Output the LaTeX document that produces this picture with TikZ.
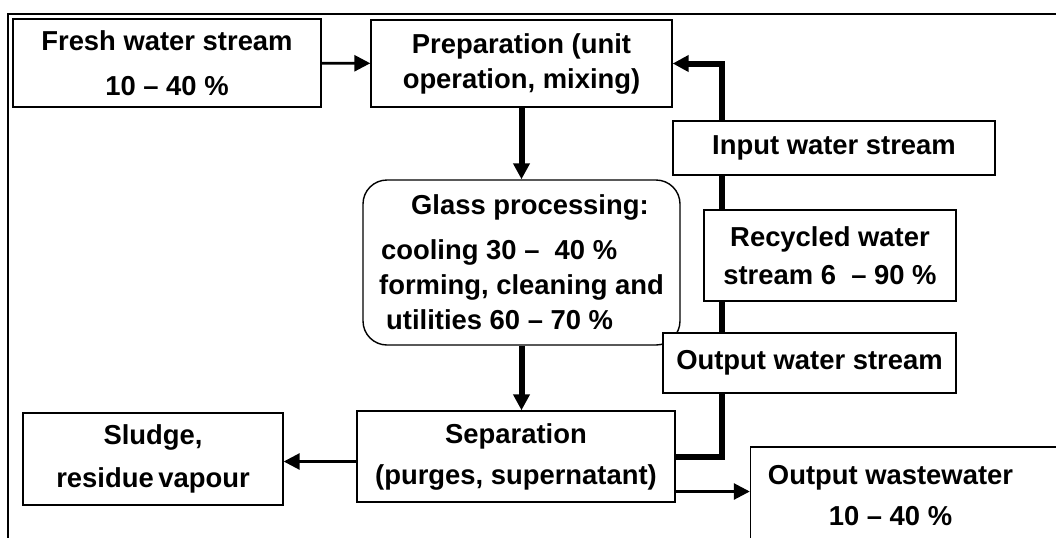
\documentclass[tikz,border=0pt]{standalone}
\usepackage{fontspec}
\setmainfont{Liberation Sans}
\usetikzlibrary{positioning,arrows.meta,backgrounds}
\tikzstyle{arrow} = [line width=1.4pt,-{Triangle[length=8pt,width=8pt]}]
\tikzset{
 bx/.style
  = {rectangle, draw, fill=white, line width=0.7pt, align=center, inner sep=0pt,
     font=\bfseries\fontsize{13.7}{17}\selectfont},
 rb/.style
  = {bx, rounded corners=12pt},
 ta/.style
  = {arrow, line width=3pt},
 ll/.style
  = {line width=3pt, -{Triangle[length=8pt,width=8pt]}},
}

\begin{document}
\begin{tikzpicture}[x=0.5pt,y=-0.5pt]
    \useasboundingbox (0,0) rectangle (1056,537);
    \clip (0,0) rectangle (1056,537);
    \draw[line width=1pt] (8,545) -- (8,14) -- (1060,14);

    \node [bx, minimum width=154pt, minimum height=44pt] (fresh) at (167,63)
      {Fresh water stream\\[5.5pt]10 – 40 \%};
    \node [bx, minimum width=150.5pt, minimum height=43.5pt] (prep) at (521.5,63.5)
      {Preparation (unit\\[0.5pt]operation, mixing)};
    \node [bx, minimum width=161pt, minimum height=27pt] (input) at (834,148)
      {Input water stream};
    \node [bx, minimum width=126pt, minimum height=45.5pt] (recyc) at (830,255.5)
      {Recycled water\\[2pt]stream 6 \ – 90 \%};
    \node [rb, align=left, minimum width=158.5pt, minimum height=82.5pt] (glass) at (521.5,262.5)
      {\hspace*{16pt}Glass processing:\\[5.5pt]\hspace*{1pt}cooling 30 – \ 40 \%\\[0.5pt]forming, cleaning and\\[0.5pt]\hspace*{3.5pt}utilities 60 – 70 \%};
    \node [bx, minimum width=146.5pt, minimum height=30pt] (outws) at (809.5,363)
      {Output water stream};
    \node [bx, minimum width=159pt, minimum height=45.5pt] (sep) at (516,456.5)
      {Separation\\[3.5pt](purges, supernatant)};
    \node [bx, minimum width=130pt, minimum height=46pt] (sludge) at (153,459)
      {Sludge,\\[4.5pt]residue\,vapour};
    \node [bx, minimum width=155pt, minimum height=49pt] (outww) at (905.5,496)
      {Output wastewater\hspace*{15pt}\\[3.5pt]10 – 40 \%\hspace*{15pt}};
    \coordinate (riser) at (722,0);

    \draw [arrow] (fresh) -- (prep);
    \draw [ta] (prep) -- (glass);
    \draw [ta] (glass.south) -- (glass.south |- sep.north);
    \draw [arrow] ([yshift=-2.5pt]sep.west) -- ([yshift=-2.5pt]sep.west -| sludge.east);
    \draw [arrow] ([yshift=-17.5pt]sep.east) -- ([yshift=-17.5pt]sep.east -| outww.west);
    \begin{pgfonlayer}{background}
      \draw [ll] (sep.east) -| (riser |- prep.east) -- (prep.east);
    \end{pgfonlayer}
  \end{tikzpicture}
\end{document}
